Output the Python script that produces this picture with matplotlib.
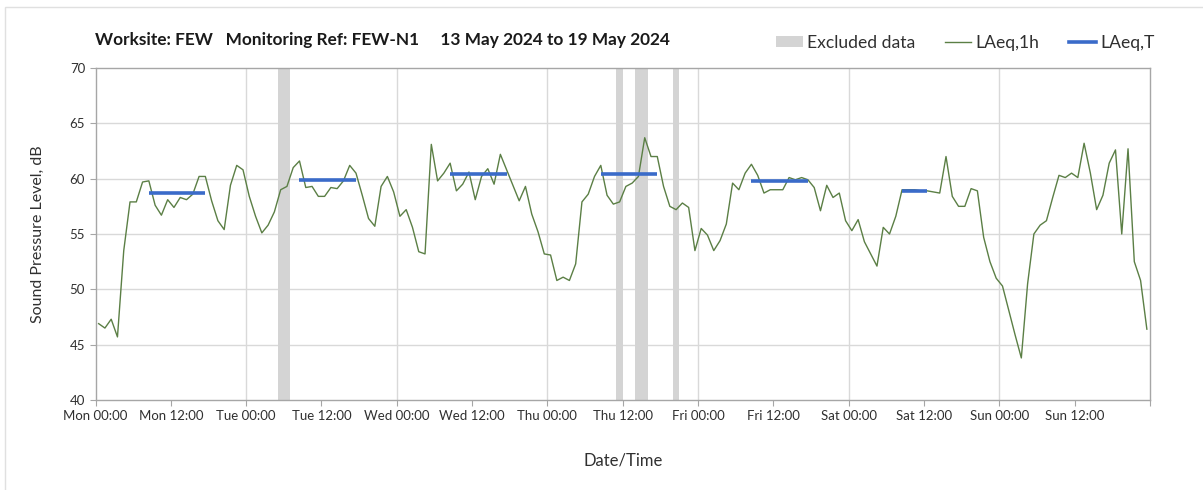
#!/usr/bin/env python3
"""Noise monitoring chart: hourly LAeq with daytime LAeq,T and excluded periods."""
import matplotlib
matplotlib.use('Agg')
import matplotlib.pyplot as plt
from matplotlib.patches import Rectangle, Patch
from matplotlib.lines import Line2D

plt.rcParams['font.family'] = ['Lato', 'DejaVu Sans']

# Hourly LAeq,1h values (dB), Mon 00:00 .. Sun 23:00
LAEQ_1H = [
    46.9, 46.5, 47.3, 45.7, 53.5, 57.9, 57.9, 59.7, 59.8, 57.6, 56.7, 58.1,
    57.4, 58.3, 58.1, 58.6, 60.2, 60.2, 58.0, 56.2, 55.4, 59.4, 61.2, 60.8,
    58.4, 56.6, 55.1, 55.8, 57.0, 59.0, 59.3, 61.0, 61.6, 59.2, 59.3, 58.4,
    58.4, 59.2, 59.1, 59.8, 61.2, 60.5, 58.5, 56.4, 55.7, 59.3, 60.2, 58.8,
    56.6, 57.2, 55.6, 53.4, 53.2, 63.1, 59.8, 60.5, 61.4, 58.9, 59.5, 60.6,
    58.1, 60.2, 60.9, 59.5, 62.2, 60.8, 59.4, 58.0, 59.3, 56.8, 55.2, 53.2,
    53.1, 50.8, 51.1, 50.8, 52.3, 57.9, 58.6, 60.2, 61.2, 58.5, 57.7, 57.9,
    59.3, 59.6, 60.2, 63.7, 62.0, 62.0, 59.3, 57.5, 57.2, 57.8, 57.4, 53.5,
    55.5, 54.9, 53.5, 54.4, 55.9, 59.6, 59.0, 60.5, 61.3, 60.3, 58.7, 59.0,
    59.0, 59.0, 60.1, 59.9, 60.1, 59.9, 59.2, 57.1, 59.4, 58.3, 58.7, 56.2,
    55.3, 56.3, 54.3, 53.2, 52.1, 55.6, 55.0, 56.6, 59.0, 59.0, 59.0, 58.9,
    58.9, 58.8, 58.7, 62.0, 58.4, 57.5, 57.5, 59.1, 58.9, 54.7, 52.5, 51.0,
    50.3, 48.1, 45.9, 43.8, 50.5, 55.0, 55.8, 56.2, 58.3, 60.3, 60.1, 60.5,
    60.1, 63.2, 60.5, 57.2, 58.5, 61.4, 62.6, 55.0, 62.7, 52.5, 50.8, 46.4,
]

# Daytime LAeq,T periods: (first hour, last hour, level dB)
LAEQ_T = [
    (8, 17, 58.7),
    (32, 41, 59.9),
    (56, 65, 60.4),
    (80, 89, 60.4),
    (104, 113, 59.8),
    (128, 132, 58.9),
]

# Excluded data periods: (start hour, end hour)
EXCLUDED = [(29, 31), (83, 84), (86, 88), (92, 93)]

DAY_NAMES = ['Mon', 'Tue', 'Wed', 'Thu', 'Fri', 'Sat', 'Sun']
TITLE = 'Worksite: FEW   Monitoring Ref: FEW-N1     13 May 2024 to 19 May 2024'

GREEN = '#5b7f45'
BLUE = '#3a6bc9'
GREY_BAND = '#d4d4d4'
TEXT = '#303030'


def main():
    fig = plt.figure(figsize=(12.03, 4.90), dpi=100)
    ax = fig.add_axes([95.5 / 1203, 1 - 400 / 490, (1150 - 95.5) / 1203, (400 - 68) / 490])

    # light frame around the whole chart
    fig.patches.append(Rectangle((5 / 1203, -0.02), 1.02, 1 - 7 / 490 + 0.02,
                                 transform=fig.transFigure, fill=False,
                                 edgecolor='#e0e0e0', linewidth=1))

    for start, end in EXCLUDED:
        ax.axvspan(start, end, color=GREY_BAND, linewidth=0, zorder=1)

    hours = [h + 0.5 for h in range(len(LAEQ_1H))]
    ax.plot(hours, LAEQ_1H, color=GREEN, linewidth=1.0, zorder=3)

    for first, last, level in LAEQ_T:
        ax.plot([first + 0.5, last + 0.5], [level, level], color=BLUE,
                linewidth=2.6, solid_capstyle='butt', zorder=4)

    ax.set_xlim(0, 168)
    ax.set_ylim(40, 70)
    ax.set_yticks(range(40, 71, 5))
    ax.set_xticks(range(0, 169, 12))
    labels = []
    for i in range(15):
        if i == 14:
            labels.append('')
        else:
            labels.append(f"{DAY_NAMES[i // 2]} {'00:00' if i % 2 == 0 else '12:00'}")
    ax.set_xticklabels(labels)

    # gridlines: horizontal every 5 dB, vertical at day boundaries only
    for y in range(45, 70, 5):
        ax.axhline(y, color='#d9d9d9', linewidth=1.0, zorder=0)
    for d in range(24, 168, 24):
        ax.axvline(d, color='#d9d9d9', linewidth=1.0, zorder=0)

    for side in ['left', 'right', 'top', 'bottom']:
        ax.spines[side].set_color('#a6a6a6')
        ax.spines[side].set_linewidth(1.0)
    ax.tick_params(axis='both', colors='#a6a6a6', labelcolor=TEXT,
                   labelsize=9.5, length=4, direction='out')

    ax.set_ylabel('Sound Pressure Level, dB', fontsize=11.5, color=TEXT, labelpad=18)
    ax.set_xlabel('Date/Time', fontsize=12, color=TEXT, labelpad=22)

    fig.text(95 / 1203, 1 - 40 / 490, TITLE, fontsize=12.4, fontweight='bold',
             color='#1a1a1a', va='center', ha='left')

    handles = [
        Patch(facecolor=GREY_BAND, edgecolor='none', label='Excluded data'),
        Line2D([0], [0], color=GREEN, linewidth=1.0, label='LAeq,1h'),
        Line2D([0], [0], color=BLUE, linewidth=2.6, label='LAeq,T'),
    ]
    leg = fig.legend(handles=handles, loc='center right',
                     bbox_to_anchor=(1170 / 1203, 1 - 43 / 490), ncol=3,
                     frameon=False, fontsize=12.6, handlelength=1.5,
                     handletextpad=0.25, columnspacing=1.7, handleheight=0.6)
    for t in leg.get_texts():
        t.set_color(TEXT)

    fig.savefig('out.png', dpi=100)


if __name__ == '__main__':
    main()
